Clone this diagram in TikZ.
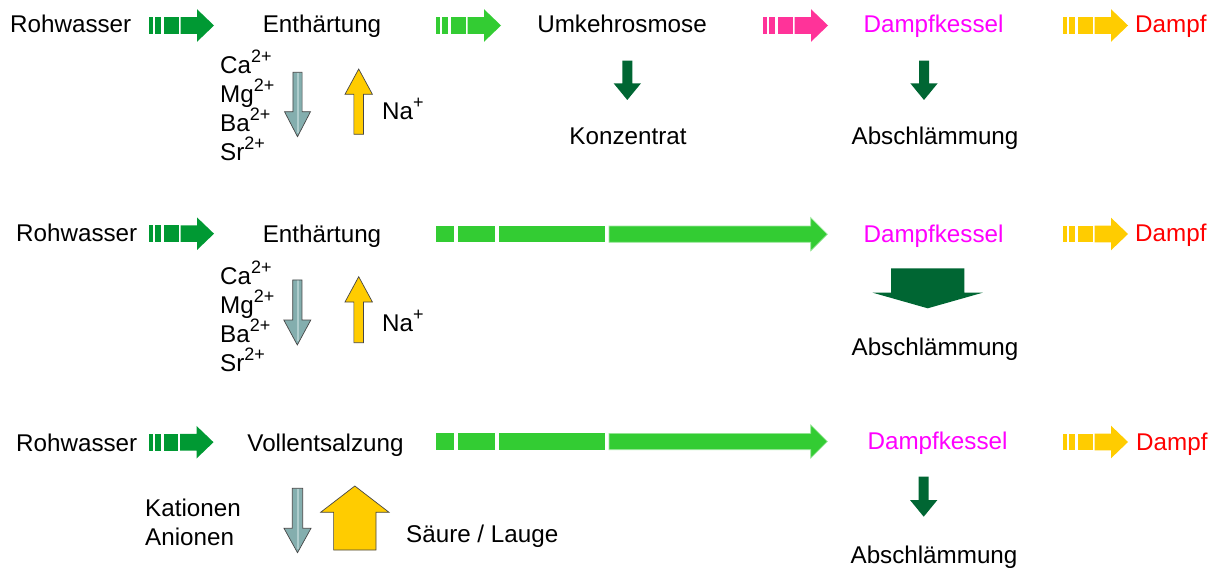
\documentclass[tikz,border=0pt]{standalone}
\usepackage{fontspec}
\setmainfont{Liberation Sans}
\definecolor{dgreen}{RGB}{0,153,51}
\definecolor{bgreen}{RGB}{51,204,51}
\definecolor{bgreenedge}{RGB}{160,232,160}
\definecolor{pinkarr}{RGB}{255,51,153}
\definecolor{yellarr}{RGB}{255,204,0}
\definecolor{darkgr}{RGB}{0,102,51}
\definecolor{tealfill}{RGB}{132,174,174}
\definecolor{tealstripe}{RGB}{175,205,205}
\definecolor{edgegray}{RGB}{70,70,70}
\definecolor{magtext}{RGB}{255,0,255}
\definecolor{redtext}{RGB}{255,0,0}
\newcommand\ionup[1]{\raisebox{11pt}{\fontsize{18}{18}\selectfont #1}}
% striped arrow: #1 x of tail, #2 y centre, #3 colour
\newcommand\stripearrow[3]{%
  \begin{scope}[shift={(#1,#2)}]
    \fill[#3] (0,-8.3) rectangle (4.3,8.3);
    \fill[#3] (6.3,-8.3) rectangle (12.3,8.3);
    \fill[#3] (15,-8.3) rectangle (29.5,8.3);
    \fill[#3] (31.5,-8.3) -- (48,-8.3) -- (48,-16.3) -- (65,0) -- (48,16.3) -- (48,8.3) -- (31.5,8.3) -- cycle;
  \end{scope}}
% long striped arrow: #1 x of tail, #2 y centre
\newcommand\longarrow[2]{%
  \begin{scope}[shift={(#1,#2)}]
    \fill[bgreen] (0,-8.15) rectangle (18,8.15);
    \fill[bgreen] (22,-8.15) rectangle (59,8.15);
    \fill[bgreen] (63,-8.15) rectangle (169,8.15);
    \path[fill=bgreen,draw=bgreenedge,line width=0.7pt] (173,-8.15) -- (374.7,-8.15) -- (374.7,-16.7) -- (391.3,0) -- (374.7,16.7) -- (374.7,8.15) -- (173,8.15) -- cycle;
  \end{scope}}
% vertical block arrow: #1 x centre, #2 tail y, #3 head-base y, #4 tip y, #5 shaft half width, #6 head half width, #7 style
\newcommand\vertarrow[7]{%
  \path[#7] (#1-#5,#2) -- (#1+#5,#2) -- (#1+#5,#3) -- (#1+#6,#3) -- (#1,#4) -- (#1-#6,#3) -- (#1-#5,#3) -- cycle;}
% teal arrow with light vertical stripe
\newcommand\tealarrow[6]{%
  \vertarrow{#1}{#2}{#3}{#4}{#5}{#6}{fill=tealfill}
  \fill[tealstripe] (#1-0.6,#2) rectangle (#1+1.2,#4-4);
  \vertarrow{#1}{#2}{#3}{#4}{#5}{#6}{draw=edgegray, line width=0.7pt}}
\tikzset{
  yelarr/.style={fill=yellarr, draw=edgegray, line width=0.7pt},
  dgarr/.style={fill=darkgr},
  lbl/.style={inner sep=0pt, font=\fontsize{24.2}{29}\selectfont},
}
\begin{document}
\begin{tikzpicture}[x=1pt,y=-1pt]
\useasboundingbox (0,0) rectangle (1215,569);

% ---------- row 1 ----------
\node[lbl,anchor=base west] (r1raw) at (10,32.5) {Rohwasser};
\node[lbl,anchor=base] (r1soft) at (322,32.5) {Enthärtung};
\node[lbl,anchor=base] (r1ro) at (622,32.5) {Umkehrosmose};
\node[lbl,anchor=base,text=magtext] (r1boil) at (933.5,32.5) {Dampfkessel};
\node[lbl,anchor=base west,text=redtext] (r1steam) at (1135,32.5) {Dampf};
\stripearrow{149}{25.5}{dgreen}
\stripearrow{436}{25.5}{bgreen}
\stripearrow{763}{25.5}{pinkarr}
\stripearrow{1063}{25.5}{yellarr}

\node[lbl,anchor=base west] (r1ca) at (220,74) {Ca\ionup{2+}};
\node[lbl,anchor=base west] (r1mg) at (220,103) {Mg\ionup{2+}};
\node[lbl,anchor=base west] (r1ba) at (220,132) {Ba\ionup{2+}};
\node[lbl,anchor=base west] (r1sr) at (220,161) {Sr\ionup{2+}};
\tealarrow{297.5}{72.3}{111.7}{136.7}{4.6}{13}
\vertarrow{358.7}{134.3}{94.3}{69}{4.85}{13.7}{yelarr}
\node[lbl,anchor=base west] (r1na) at (382,120) {Na\ionup{+}};

\vertarrow{627.3}{60.7}{83.3}{100}{5}{13.7}{dgarr}
\node[lbl,anchor=base] (r1conc) at (628,145) {Konzentrat};
\vertarrow{924}{60.7}{83.3}{100}{5}{13.7}{dgarr}
\node[lbl,anchor=base] (r1blow) at (935,145) {Abschlämmung};

% ---------- row 2 ----------
\node[lbl,anchor=base west] (r2raw) at (16,241.5) {Rohwasser};
\node[lbl,anchor=base] (r2soft) at (322,242.5) {Enthärtung};
\node[lbl,anchor=base,text=magtext] (r2boil) at (933.5,242.5) {Dampfkessel};
\node[lbl,anchor=base west,text=redtext] (r2steam) at (1135,242) {Dampf};
\stripearrow{149}{233.7}{dgreen}
\longarrow{436}{234.2}
\stripearrow{1063}{234}{yellarr}

\node[lbl,anchor=base west] (r2ca) at (220,284) {Ca\ionup{2+}};
\node[lbl,anchor=base west] (r2mg) at (220,313) {Mg\ionup{2+}};
\node[lbl,anchor=base west] (r2ba) at (220,342) {Ba\ionup{2+}};
\node[lbl,anchor=base west] (r2sr) at (220,371) {Sr\ionup{2+}};
\tealarrow{297.3}{280}{320}{345}{4.6}{13.5}
\vertarrow{358.7}{342.7}{302}{276.7}{4.85}{13.7}{yelarr}
\node[lbl,anchor=base west] (r2na) at (382,331.5) {Na\ionup{+}};

\vertarrow{927.7}{268.3}{292.7}{308.3}{36.7}{55}{dgarr}
\node[lbl,anchor=base] (r2blow) at (935,355) {Abschlämmung};

% ---------- row 3 ----------
\node[lbl,anchor=base west] (r3raw) at (16,451) {Rohwasser};
\node[lbl,anchor=base] (r3demin) at (325.5,451.5) {Vollentsalzung};
\node[lbl,anchor=base,text=magtext] (r3boil) at (937.5,449.5) {Dampfkessel};
\node[lbl,anchor=base west,text=redtext] (r3steam) at (1136,450) {Dampf};
\stripearrow{148.5}{442.2}{dgreen}
\longarrow{436}{441.5}
\stripearrow{1063}{442}{yellarr}

\node[lbl,anchor=base west] (r3cat) at (145,516) {Kationen};
\node[lbl,anchor=base west] (r3an) at (145,545) {Anionen};
\tealarrow{297.5}{488.3}{528.3}{552.7}{5.2}{13.5}
\vertarrow{354.8}{550}{512.3}{486}{21.2}{34.2}{yelarr}
\node[lbl,anchor=base west] (r3acid) at (406,542) {Säure / Lauge};

\vertarrow{923.7}{476.7}{500}{516.7}{5}{13.7}{dgarr}
\node[lbl,anchor=base] (r3blow) at (934,563.5) {Abschlämmung};
\end{tikzpicture}
\end{document}
